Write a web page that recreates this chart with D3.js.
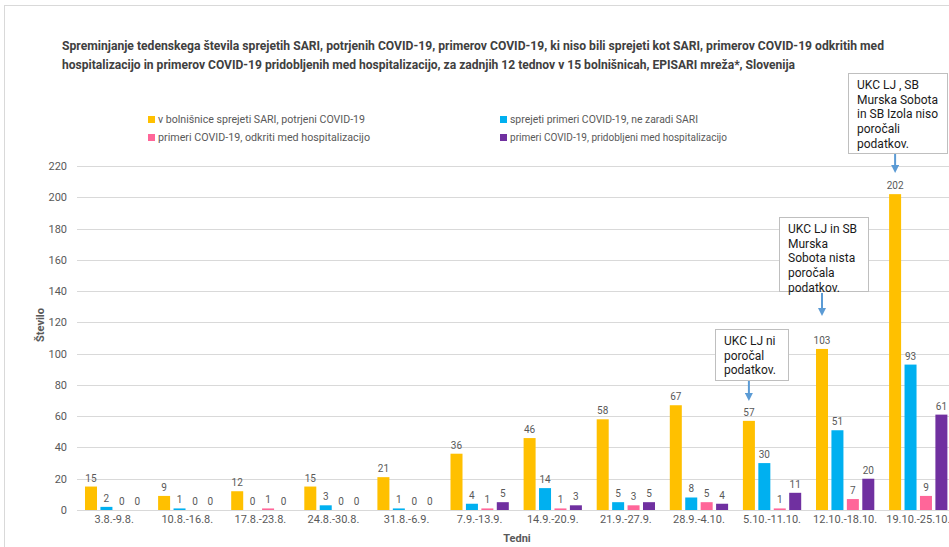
<!DOCTYPE html>
<html><head><meta charset="utf-8">
<script src="https://cdn.jsdelivr.net/npm/d3@7"></script>
<style>
html,body{margin:0;padding:0;background:#fff;}
svg{display:block;font-family:Roboto,"Open Sans",sans-serif;}
</style></head>
<body>
<svg id="chart" width="949" height="547"></svg>
<script>
const categories = ["3.8.-9.8.","10.8.-16.8.","17.8.-23.8.","24.8.-30.8.","31.8.-6.9.","7.9.-13.9.","14.9.-20.9.","21.9.-27.9.","28.9.-4.10.","5.10.-11.10.","12.10.-18.10.","19.10.-25.10."];
const sariCovid   = [15, 9, 12, 15, 21, 36, 46, 58, 67, 57, 103, 202];
const notSari     = [2, 1, 0, 3, 1, 4, 14, 5, 8, 30, 51, 93];
const detectedIn  = [0, 0, 1, 0, 0, 1, 1, 3, 5, 1, 7, 9];
const acquiredIn  = [0, 0, 0, 0, 0, 5, 3, 5, 4, 11, 20, 61];
const seriesNames = ["v bolnišnice sprejeti SARI, potrjeni COVID-19","sprejeti primeri COVID-19, ne zaradi SARI","primeri COVID-19, odkriti med hospitalizacijo","primeri COVID-19, pridobljeni med hospitalizacijo"];
const yTicks = [0,20,40,60,80,100,120,140,160,180,200,220];
const titleLines = ["Spreminjanje tedenskega števila sprejetih SARI, potrjenih COVID-19, primerov COVID-19, ki niso bili sprejeti kot SARI, primerov COVID-19 odkritih med","hospitalizacijo in primerov COVID-19 pridobljenih med hospitalizacijo, za zadnjih 12 tednov v 15 bolnišnicah, EPISARI mreža*, Slovenija"];
const notes = [
  {cat:"5.10.-11.10.", value:57, lines:["UKC LJ ni","poročal","podatkov."]},
  {cat:"12.10.-18.10.", value:103, lines:["UKC LJ in SB","Murska","Sobota nista","poročala","podatkov."]},
  {cat:"19.10.-25.10.", value:202, lines:["UKC LJ , SB","Murska Sobota","in SB Izola niso","poročali","podatkov."]}
];

const colors = ["#FFC000","#00B0F0","#FF6699","#7030A0"];
const seriesValues = [sariCovid, notSari, detectedIn, acquiredIn];
const data = categories.map((c,i)=>({cat:c, vals:seriesValues.map(s=>s[i])}));

const svg = d3.select("#chart");
const textCol = "#595959";

// outer frame
svg.append("rect").attr("x",4.5).attr("y",5.5).attr("width",1000).attr("height",600)
  .attr("fill","none").attr("stroke","#d9d9d9");

const x0 = d3.scaleBand().domain(categories).range([77.6, 954.8]).padding(0);
const x1 = d3.scaleBand().domain(d3.range(4)).range([7.4, 65.7]).paddingInner(0.222).paddingOuter(0);
const y = d3.scaleLinear().domain([0,220]).range([510,166]);

// gridlines
svg.append("g").selectAll("line").data(yTicks).join("line")
  .attr("x1",77).attr("x2",949)
  .attr("y1",d=>Math.round(y(d))+0.5).attr("y2",d=>Math.round(y(d))+0.5)
  .attr("stroke","#d9d9d9").attr("stroke-width",1);

// y axis labels
const yAxis = d3.axisLeft(y).tickValues(yTicks).tickSize(0).tickPadding(0);
const yg = svg.append("g").attr("transform","translate(67,0)").call(yAxis);
yg.select(".domain").remove();
yg.selectAll("text").attr("fill",textCol).attr("font-size",11).attr("font-family","Roboto,'Open Sans',sans-serif");

// x axis labels
const xAxis = d3.axisBottom(x0).tickSize(0).tickPadding(0);
const xg = svg.append("g").attr("transform","translate(0,515)").call(xAxis);
xg.select(".domain").remove();
xg.selectAll("text").attr("fill",textCol).attr("font-size",11).attr("font-family","Roboto,'Open Sans',sans-serif");

// bars
const groups = svg.append("g").selectAll("g").data(data).join("g")
  .attr("transform",d=>`translate(${x0(d.cat)},0)`);
groups.selectAll("rect").data(d=>d.vals).join("rect")
  .attr("x",(d,i)=>x1(i)).attr("width",x1.bandwidth())
  .attr("y",d=>y(d)).attr("height",d=>y(0)-y(d))
  .attr("fill",(d,i)=>colors[i]);
groups.selectAll("text").data(d=>d.vals).join("text")
  .attr("x",(d,i)=>x1(i)+x1.bandwidth()/2).attr("y",d=>y(d)-5)
  .attr("text-anchor","middle").attr("font-size",10).attr("fill",textCol)
  .text(d=>d);

// titles
const title = svg.append("text").attr("font-size",12).attr("font-weight","bold").attr("fill","#404040");
titleLines.forEach((t,i)=>{
  title.append("tspan").attr("x",62).attr("y",50+i*19).text(t)
    .attr("textLength", i===0?822:733).attr("lengthAdjust","spacingAndGlyphs");
});

svg.append("text").attr("transform","translate(44,325) rotate(-90)").attr("text-anchor","middle")
  .attr("font-size",11).attr("font-weight","bold").attr("fill",textCol).text("Število");
svg.append("text").attr("x",517).attr("y",542).attr("text-anchor","middle")
  .attr("font-size",11).attr("font-weight","bold").attr("fill",textCol).text("Tedni");

// legend
const legPos = [[148,123],[500,123],[148,141],[500,141]];
const legLen = [207, 188, 212, 217];
const leg = svg.append("g").selectAll("g").data(seriesNames).join("g")
  .attr("transform",(d,i)=>`translate(${legPos[i][0]},${legPos[i][1]})`);
leg.append("rect").attr("x",0).attr("y",-7).attr("width",7).attr("height",7).attr("fill",(d,i)=>colors[i]);
leg.append("text").attr("x",10).attr("y",0).attr("font-size",11).attr("fill",textCol)
  .attr("textLength",(d,i)=>legLen[i]).attr("lengthAdjust","spacingAndGlyphs").text(d=>d);

// annotations
const defs = svg.append("defs");
defs.append("marker").attr("id","arr").attr("viewBox","0 0 10 10").attr("refX",5).attr("refY",5)
  .attr("markerWidth",4).attr("markerHeight",4).attr("orient","auto")
  .append("path").attr("d","M0,0 L10,5 L0,10 z").attr("fill","#5B9BD5");
const noteLayout = [
  {left:-34, w:73, top:329, h:51, aTop:381, aBot:401},
  {left:-43, w:89, top:217, h:74, aTop:293, aBot:316},
  {left:-47, w:99, top:73, h:80, aTop:154, aBot:173}
];
notes.forEach((n,k)=>{
  const L = noteLayout[k];
  const ax = x0(n.cat) + x1(0) + x1.bandwidth()/2;
  const g = svg.append("g");
  g.append("rect").attr("x",Math.round(ax+L.left)+0.5).attr("y",L.top+0.5).attr("width",L.w).attr("height",L.h)
    .attr("fill","#fff").attr("stroke","#bfbfbf");
  g.selectAll("text").data(n.lines).join("text")
    .attr("x",Math.round(ax+L.left)+9).attr("y",(d,i)=>L.top+16+i*14.7)
    .attr("font-size",12).attr("fill","#1a1a1a").text(d=>d);
  g.append("line").attr("x1",ax).attr("x2",ax).attr("y1",L.aTop).attr("y2",L.aBot-4)
    .attr("stroke","#5B9BD5").attr("stroke-width",2).attr("marker-end","url(#arr)");
});
</script>
</body></html>
